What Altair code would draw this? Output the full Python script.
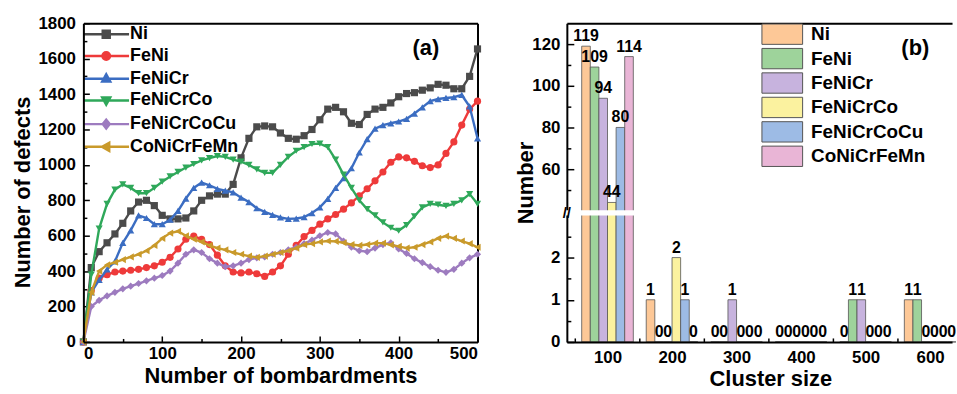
import altair as alt
import pandas as pd

FONT = "Liberation Sans"

# ---------------- data: panel (a) ----------------
bombardments = list(range(0, 501, 10))
alloys = ["Ni", "FeNi", "FeNiCr", "FeNiCrCo", "FeNiCrCoCu", "CoNiCrFeMn"]

ni = [0, 420, 510, 560, 610, 670, 740, 790, 800, 770, 715, 695, 695, 700, 740, 800, 825, 835, 835, 890,
      1040, 1150, 1215, 1220, 1215, 1180, 1150, 1145, 1165, 1200, 1255, 1315, 1325, 1300, 1235, 1228,
      1285, 1315, 1325, 1350, 1385, 1403, 1408, 1422, 1435, 1455, 1450, 1430, 1430, 1500, 1655]
feni = [0, 290, 360, 380, 395, 400, 405, 410, 420, 430, 450, 478, 525, 580, 598, 580, 550, 490, 430, 395,
        390, 395, 385, 370, 395, 430, 495, 545, 595, 630, 665, 695, 720, 750, 785, 825, 865, 910, 960,
        1015, 1045, 1040, 1020, 995, 985, 1000, 1065, 1130, 1225, 1315, 1360]
fenicr = [0, 280, 350, 410, 455, 560, 630, 715, 700, 665, 665, 690, 740, 810, 870, 900, 885, 865, 855, 845,
          815, 790, 755, 735, 718, 703, 695, 697, 705, 728, 760, 808, 870, 925, 981, 1070, 1145, 1205, 1225,
          1235, 1245, 1260, 1290, 1325, 1360, 1372, 1378, 1382, 1395, 1330, 1150]
fenicrco = [0, 380, 640, 780, 860, 890, 870, 840, 840, 870, 905, 935, 960, 985, 1005, 1025, 1038, 1050, 1045,
            1030, 1018, 1000, 975, 955, 955, 1000, 1045, 1080, 1100, 1118, 1120, 1100, 1030, 945, 870, 800,
            750, 715, 675, 645, 628, 660, 710, 760, 780, 775, 768, 780, 800, 835, 780]
fenicrcocu = [0, 200, 235, 260, 280, 300, 315, 330, 345, 360, 375, 400, 445, 495, 520, 505, 470, 445, 425,
              430, 445, 465, 475, 480, 495, 505, 520, 535, 555, 575, 600, 618, 610, 570, 535, 515, 510, 530,
              550, 560, 525, 500, 470, 448, 425, 405, 393, 410, 445, 475, 495]
conicrfemn = [0, 280, 400, 435, 450, 465, 480, 495, 515, 545, 585, 615, 625, 600, 580, 565, 545, 530, 520,
              505, 495, 485, 478, 485, 495, 505, 515, 530, 550, 555, 565, 570, 568, 560, 550, 545, 550, 558,
              558, 548, 540, 530, 535, 550, 565, 585, 598, 585, 570, 555, 535]
defects = [ni, feni, fenicr, fenicrco, fenicrcocu, conicrfemn]

line_colors = ["#4b4b4b", "#ee3a3a", "#3b6dc2", "#2fa85a", "#9d7bbf", "#c99a2b"]
marker_shapes = ["square", "circle", "triangle-up", "triangle-down", "diamond", "triangle-left"]

# ---------------- data: panel (b) ----------------
cluster_sizes = [100, 200, 300, 400, 500, 600]
cluster_counts = [
    [119, 1, 0, 0, 0, 1],   # Ni
    [109, 0, 0, 0, 1, 1],   # FeNi
    [94, 0, 1, 0, 1, 0],    # FeNiCr
    [44, 2, 0, 0, 0, 0],    # FeNiCrCo
    [80, 1, 0, 0, 0, 0],    # FeNiCrCoCu
    [114, 0, 0, 0, 0, 0],   # CoNiCrFeMn
]
bar_colors = ["#fdc897", "#9ed39b", "#c7b3de", "#fbf29f", "#9dbbe5", "#e9b5d6"]
y_major_b = [0, 1, 2, 60, 80, 100, 120]
y_minor_b = [0.5, 1.5, 2.5, 50, 70, 90, 110]
x_minor_b = [50, 150, 250, 350, 450, 550]

df_a = pd.DataFrame([
    {"bombardments": b, "defects": d, "alloy": a}
    for a, vals in zip(alloys, defects) for b, d in zip(bombardments, vals)
])
df_b = pd.DataFrame([
    {"size": s, "count": c, "alloy": a, "idx": i}
    for i, (a, counts) in enumerate(zip(alloys, cluster_counts)) for s, c in zip(cluster_sizes, counts)
])

# ---------------- layout constants ----------------
H = 321
W_A = 397
W_B = 388
PX_PER_UNIT_B = 0.65
X0_B = 37

# broken y-axis for (b)
LOW_MAX = 3.06
HIGH_MIN = 39.0
HIGH_MAX = 130.0
LOW_PX = 130.0
HIGH_PX = H - LOW_PX
K = (LOW_MAX / LOW_PX) / ((HIGH_MAX - HIGH_MIN) / HIGH_PX)
Y_TOP = LOW_MAX + (HIGH_MAX - HIGH_MIN) * K


def disp(v):
    return v if v <= LOW_MAX else LOW_MAX + (v - HIGH_MIN) * K


BAR_W = 13.333
GROUP_START = -40.0

# ---------------- panel (a) ----------------
xs_a = alt.Scale(domain=[0, 500], nice=False, zero=False)
ys_a = alt.Scale(domain=[0, 1800], nice=False)


def tick_axes(xvals, yvals, size, w, h):
    return (
        alt.Axis(orient="top", offset=-h, values=xvals, tickSize=size, labels=False, domain=False, title=None),
        alt.Axis(orient="right", offset=-w, values=yvals, tickSize=size, labels=False, domain=False, title=None),
    )


axes_a = [
    (alt.Axis(orient="bottom", values=list(range(0, 501, 100)), title="Number of bombardments", ticks=False,
              labelPadding=4, titlePadding=4, zindex=1, format="d"),
     alt.Axis(orient="left", values=list(range(0, 1801, 200)), title="Number of defects", ticks=False,
              labelPadding=8, titlePadding=3, zindex=1, format="d", titleY=170)),
    (alt.Axis(orient="top", labels=False, ticks=False, title=None),
     alt.Axis(orient="right", labels=False, ticks=False, title=None)),
    tick_axes(list(range(0, 501, 100)), list(range(0, 1801, 200)), 6, W_A, H),
    tick_axes(list(range(50, 500, 100)), list(range(100, 1800, 200)), 3.5, W_A, H),
]

layers_a = []
k = 0
for i, a in enumerate(alloys):
    for kind in ("line", "point"):
        axx, axy = axes_a[k] if k < len(axes_a) else (None, None)
        base = alt.Chart(df_a).transform_filter(alt.datum.alloy == a)
        if kind == "line":
            m = base.mark_line(strokeWidth=2.4, color=line_colors[i])
        else:
            m = base.mark_point(shape=marker_shapes[i], filled=True, size=52, opacity=1, strokeWidth=0,
                                color=line_colors[i])
        layers_a.append(m.encode(
            x=alt.X("bombardments:Q", scale=xs_a, axis=axx),
            y=alt.Y("defects:Q", scale=ys_a, axis=axy),
        ))
        k += 1

seg = "M-4.6,0H4.6"
legend_paths = [
    seg + "M-0.7,-0.7H0.7V0.7H-0.7Z",
    seg + "M0.75,0A0.75,0.75,0,1,1,-0.75,0A0.75,0.75,0,1,1,0.75,0Z",
    seg + "M0,-0.85L0.8,0.6H-0.8Z",
    seg + "M0,0.85L0.8,-0.6H-0.8Z",
    seg + "M0,-0.9L0.7,0L0,0.9L-0.7,0Z",
    seg + "M-0.85,0L0.6,-0.8V0.8Z",
]

leg_a = alt.Legend(orient="none", legendX=14, legendY=2, title=None, symbolSize=100,
                   symbolStrokeWidth=2.5, labelFont=FONT, labelFontSize=18, labelFontWeight="bold",
                   labelColor="black", labelOffset=15, rowPadding=3.9, padding=0, symbolOpacity=1)

# invisible marks that only carry the legend (line + marker symbols)
carrier_a = alt.Chart(df_a).transform_filter("datum.bombardments == 0").mark_point(
    filled=True, opacity=0, strokeWidth=2.5, size=100
).encode(
    x=alt.X("bombardments:Q", scale=xs_a, axis=None),
    y=alt.Y("defects:Q", scale=ys_a, axis=None),
    fill=alt.Fill("alloy:N", scale=alt.Scale(domain=alloys, range=line_colors), legend=leg_a),
    stroke=alt.Stroke("alloy:N", scale=alt.Scale(domain=alloys, range=line_colors), legend=leg_a),
    shape=alt.Shape("alloy:N", scale=alt.Scale(domain=alloys, range=legend_paths), legend=leg_a),
)

text_a = alt.Chart(pd.DataFrame({"label": ["(a)"]})).mark_text(
    font=FONT, fontSize=22, fontWeight="bold", baseline="middle", align="center", color="black"
).encode(text="label:N", x=alt.value(345), y=alt.value(25))

panel_a = alt.layer(*layers_a, carrier_a, text_a).resolve_axis(
    x="independent", y="independent"
).properties(width=W_A, height=H)

# ---------------- panel (b) ----------------
xs_b = alt.Scale(domain=[X0_B, X0_B + W_B / PX_PER_UNIT_B], nice=False, zero=False)
ys_b = alt.Scale(domain=[0, Y_TOP], nice=False, zero=True)

label_expr = (f"datum.value <= {LOW_MAX} ? format(datum.value, 'd') : "
              f"format(round({HIGH_MIN} + (datum.value - {LOW_MAX}) / {K}), 'd')")

base_b = alt.Chart(df_b).transform_calculate(
    x0=f"datum.size + {GROUP_START} + datum.idx * {BAR_W}",
    x1=f"datum.size + {GROUP_START} + (datum.idx + 1) * {BAR_W}",
    xc=f"datum.size + {GROUP_START} + (datum.idx + 0.5) * {BAR_W}",
    disp=f"datum.count <= {LOW_MAX} ? datum.count : {LOW_MAX} + (datum.count - {HIGH_MIN}) * {K}",
)

leg_b = alt.Legend(orient="none", legendX=206, legendY=0, title=None, symbolType="M-2,-1H2V1H-2Z",
                   symbolSize=420, symbolStrokeColor="#555555", symbolStrokeWidth=1, labelFont=FONT,
                   labelFontSize=19, labelFontWeight="bold", labelColor="black", labelOffset=18,
                   rowPadding=-1.4, padding=0, symbolOpacity=1)

bars = base_b.mark_rect(stroke="#555555", strokeWidth=0.8).encode(
    x=alt.X("x0:Q", scale=xs_b, axis=alt.Axis(orient="bottom", values=cluster_sizes, title="Cluster size",
                                                ticks=False, labelPadding=8, titlePadding=3, zindex=1,
                                                titleX=205)),
    x2="x1:Q",
    y=alt.Y("disp:Q", scale=ys_b, axis=alt.Axis(orient="left", values=[disp(v) for v in y_major_b],
                                                  labelExpr=label_expr, title="Number", ticks=False,
                                                  labelPadding=7, titlePadding=-6)),
    y2=alt.datum(0),
    fill=alt.Fill("alloy:N", scale=alt.Scale(domain=alloys, range=bar_colors), legend=leg_b),
)

bar_labels = base_b.mark_text(
    baseline="bottom", dy=-2, font=FONT, fontSize=16, fontWeight="bold", color="black"
).encode(
    x=alt.X("xc:Q", scale=xs_b, axis=alt.Axis(orient="top", labels=False, ticks=False, title=None)),
    y=alt.Y("disp:Q", scale=ys_b, axis=alt.Axis(orient="right", offset=-W_B, values=[disp(v) for v in y_major_b],
                                                  tickSize=7, labels=False, domain=False, title=None)),
    text="count:Q",
)

tick_carrier_b = base_b.transform_filter("datum.count < 0").mark_point(opacity=0).encode(
    x=alt.X("xc:Q", scale=xs_b, axis=alt.Axis(orient="top", offset=-H, values=x_minor_b, tickSize=4,
                                                labels=False, domain=False, title=None)),
    y=alt.Y("disp:Q", scale=ys_b, axis=alt.Axis(orient="right", offset=-W_B, values=[disp(v) for v in y_minor_b],
                                                  tickSize=4, labels=False, domain=False, title=None)),
)

brk = pd.DataFrame({"lo": [LOW_MAX - 0.065], "hi": [LOW_MAX + 0.065], "mid": [LOW_MAX], "mark": ["//"]})
band = alt.Chart(brk).mark_rect(color="white").encode(
    x=alt.value(-8), x2=alt.value(75),
    y=alt.Y("lo:Q", scale=ys_b, axis=None), y2="hi:Q",
)
glyph = alt.Chart(brk).mark_text(font=FONT, fontSize=15, fontWeight="bold", color="black",
                                 baseline="middle", align="center").encode(
    x=alt.value(0), y=alt.Y("mid:Q", scale=ys_b, axis=None), text="mark:N",
)

text_b = alt.Chart(pd.DataFrame({"label": ["(b)"]})).mark_text(
    font=FONT, fontSize=22, fontWeight="bold", baseline="middle", align="center", color="black"
).encode(text="label:N", x=alt.value(351), y=alt.value(25))

panel_b = alt.layer(bars, bar_labels, tick_carrier_b, band, glyph, text_b).resolve_axis(
    x="independent", y="independent"
).properties(width=W_B, height=H)

chart = alt.hconcat(panel_a, panel_b, spacing=32).resolve_scale(
    fill="independent", stroke="independent", shape="independent",
    x="independent", y="independent"
).resolve_legend(
    fill="independent", stroke="independent", shape="independent"
).properties(
    padding={"left": 12, "top": 13, "right": 0, "bottom": 0}
).configure_view(stroke=None).configure_axis(
    labelFont=FONT, labelFontSize=17, labelFontWeight="bold", labelColor="black",
    titleFont=FONT, titleFontSize=22, titleFontWeight="bold", titleColor="black",
    domainColor="black", domainWidth=2, tickColor="black", tickWidth=1.5, grid=False,
)

chart.save("out.html", embed_options={"renderer": "svg", "actions": False})
